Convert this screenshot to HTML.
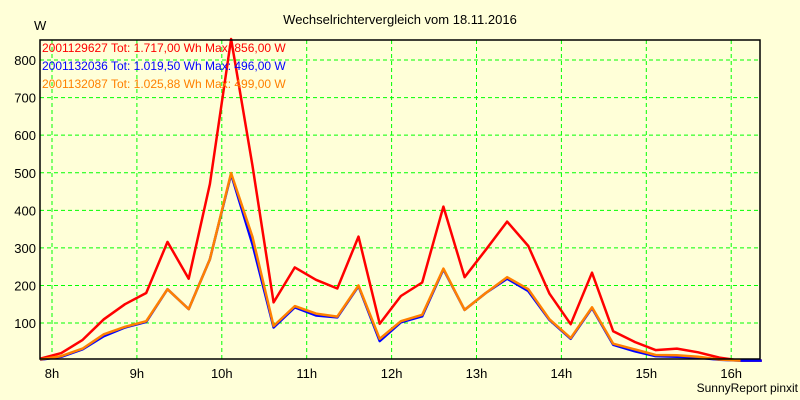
<!DOCTYPE html>
<html><head><meta charset="utf-8"><style>
body{margin:0;background:#ffffd8;}
svg{display:block;font-family:"Liberation Sans",sans-serif;}
</style></head><body>
<svg id="c" width="800" height="400">
<rect width="800" height="400" fill="#ffffd8"/>
<text x="400" y="24" text-anchor="middle" font-size="13">Wechselrichtervergleich vom 18.11.2016</text>
<text x="34" y="30" font-size="13">W</text>
<text x="798" y="392" text-anchor="end" font-size="12">SunnyReport pinxit</text>
<g id="grid"></g><g id="series"></g>
<rect x="40" y="40" width="720" height="319" fill="none" stroke="#000" stroke-width="1.5"/>
<g font-size="12">
<text x="42" y="52" fill="#ff0000">2001129627 Tot: 1.717,00 Wh Max: 856,00 W</text>
<text x="42" y="70" fill="#0000ff">2001132036 Tot: 1.019,50 Wh Max: 496,00 W</text>
<text x="42" y="88" fill="#ff8000">2001132087 Tot: 1.025,88 Wh Max: 499,00 W</text>
</g>
</svg>
<script>
const hourTicks=[8,9,10,11,12,13,14,15,16];
const wattTicks=[100,200,300,400,500,600,700,800];
const startHour=7.86, stepHour=0.25;
const red=[5,20,55,110,150,180,316,218,470,856,520,155,248,215,192,330,98,172,208,410,222,295,370,305,178,97,234,78,50,28,32,22,8,0,0];
const blue=[2,10,30,65,88,103,190,137,270,496,310,88,142,120,115,198,52,102,118,243,135,180,218,185,108,58,140,42,25,12,10,8,2,0,0];
const orange=[3,12,32,70,90,105,190,137,270,499,330,92,145,125,117,200,58,105,122,245,135,180,222,190,110,60,142,45,30,15,14,10,3,0];
const X=h=>52+(h-8)*84.9;
const Y=w=>360.6-w*0.3757;
const NS="http://www.w3.org/2000/svg";
const g=document.getElementById('grid'),s=document.getElementById('series');
function mk(tag,at,p){const e=document.createElementNS(NS,tag);for(const k in at)e.setAttribute(k,at[k]);p.appendChild(e);return e;}
hourTicks.forEach(h=>{
 const l=mk('line',{x1:X(h),x2:X(h),y1:40,y2:359,stroke:'#00ff00','stroke-dasharray':'4,3'},g);
 
 
 const t=mk('text',{x:X(h),y:378,'text-anchor':'middle','font-size':'13'},g);t.textContent=h+'h';
 
 
});
wattTicks.forEach(w=>{
 const l=mk('line',{x1:40,x2:760,y1:Y(w),y2:Y(w),stroke:'#00ff00','stroke-dasharray':'4,3'},g);
 
 
 const t=mk('text',{x:36,y:Y(w)+5,'text-anchor':'end','font-size':'13'},g);t.textContent=w;
 
 
});
[[red,'#ff0000','series-red'],[blue,'#0000ff','series-blue'],[orange,'#ff8000','series-orange']].forEach(([d,c,n])=>{
 const pts=d.map((v,i)=>X(startHour+i*stepHour).toFixed(1)+','+Y(v).toFixed(1)).join(' ');
 const p=mk('polyline',{points:pts,fill:'none',stroke:c,'stroke-width':2.5,'stroke-linejoin':'round'},s);
 
 
});
</script>
</body></html>
